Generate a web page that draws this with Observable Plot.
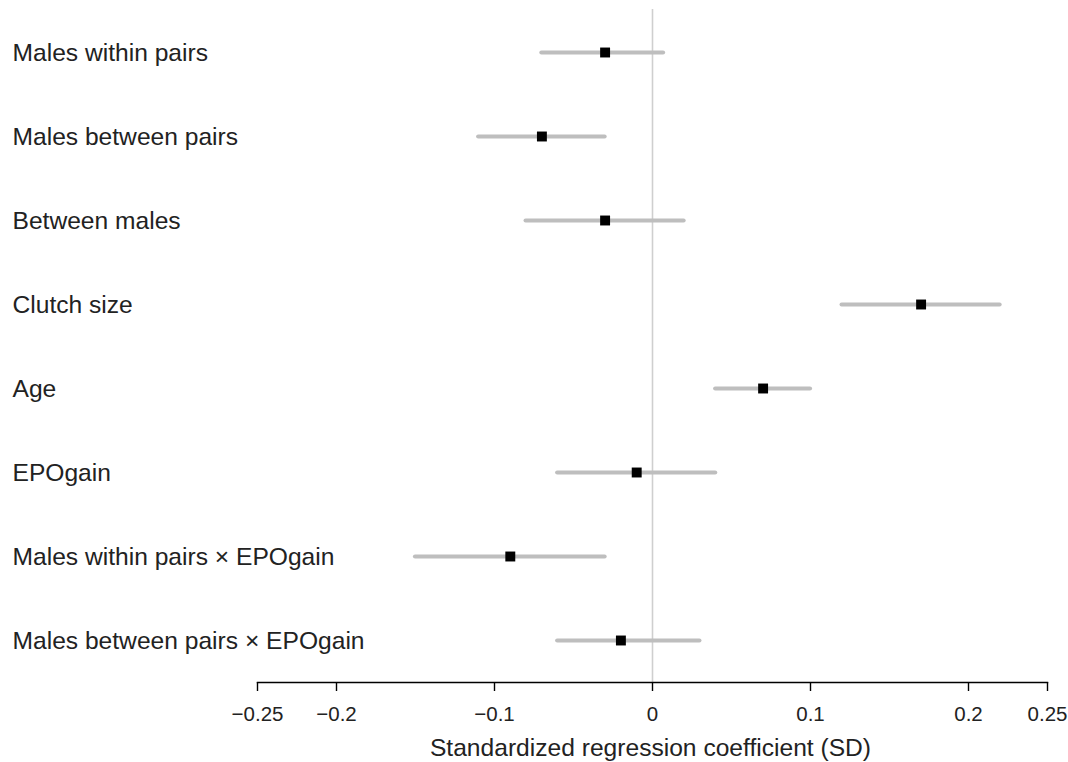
<!DOCTYPE html>
<html>
<head>
<meta charset="utf-8">
<script src="https://cdn.jsdelivr.net/npm/d3@7"></script>
<script src="https://cdn.jsdelivr.net/npm/@observablehq/plot@0.6"></script>
<style>
  html, body { margin: 0; padding: 0; background: #fff; }
  #chart svg { display: block; }
</style>
</head>
<body>
<div id="chart"></div>
<script>
const categories = [
  "Males within pairs",
  "Males between pairs",
  "Between males",
  "Clutch size",
  "Age",
  "EPOgain",
  "Males within pairs × EPOgain",
  "Males between pairs × EPOgain"
];
const estimates = [-0.03, -0.07, -0.03, 0.17, 0.07, -0.01, -0.09, -0.02];
const lower = [-0.07, -0.11, -0.08, 0.12, 0.04, -0.06, -0.15, -0.06];
const upper = [0.007, -0.03, 0.02, 0.22, 0.10, 0.04, -0.03, 0.03];
const xTicks = [-0.25, -0.2, -0.1, 0, 0.1, 0.2, 0.25];
const xLabel = "Standardized regression coefficient (SD)";

const rows = categories.map((c, i) => ({cat: c, est: estimates[i], lo: lower[i], hi: upper[i]}));
const font = "'Liberation Sans', Arial, Helvetica, sans-serif";
const fmt = d => d === 0 ? "0" : (d < 0 ? "\u2212" : "") + String(Math.abs(d));

const chart = Plot.plot({
  width: 1068,
  height: 762,
  marginLeft: 257,
  marginRight: 21,
  marginTop: 9,
  marginBottom: 80,
  style: {fontFamily: font, background: "#fff", color: "#222"},
  x: {domain: [-0.25, 0.25]},
  y: {type: "point", domain: categories, padding: 0.5, axis: null},
  marks: [
    Plot.ruleX([0], {stroke: "#cfcfcf", strokeWidth: 1.6}),
    Plot.ruleY(rows, {y: "cat", x1: "lo", x2: "hi", stroke: "#bebebe", strokeWidth: 4.2, strokeLinecap: "round"}),
    Plot.dot(rows, {x: "est", y: "cat", symbol: "square", r: 5.6, fill: "#000", stroke: null}),
    Plot.text(rows, {y: "cat", text: "cat", frameAnchor: "left", lineAnchor: "middle", dx: -245, dy: 1, textAnchor: "start", fontSize: 24.6, fill: "#222"}),
    Plot.frame({anchor: "bottom", stroke: "#000", strokeWidth: 1.4}),
    Plot.axisX({ticks: xTicks, tickSize: 9, tickPadding: 15, tickFormat: fmt, fontSize: 20.5, label: null, stroke: "#000", strokeWidth: 1.4, fill: "#222"}),
    Plot.text([xLabel], {text: d => d, frameAnchor: "bottom", lineAnchor: "middle", dx: -2, dy: 66, fontSize: 24.6, fill: "#222"})
  ]
});
document.getElementById("chart").appendChild(chart);
</script>
</body>
</html>
